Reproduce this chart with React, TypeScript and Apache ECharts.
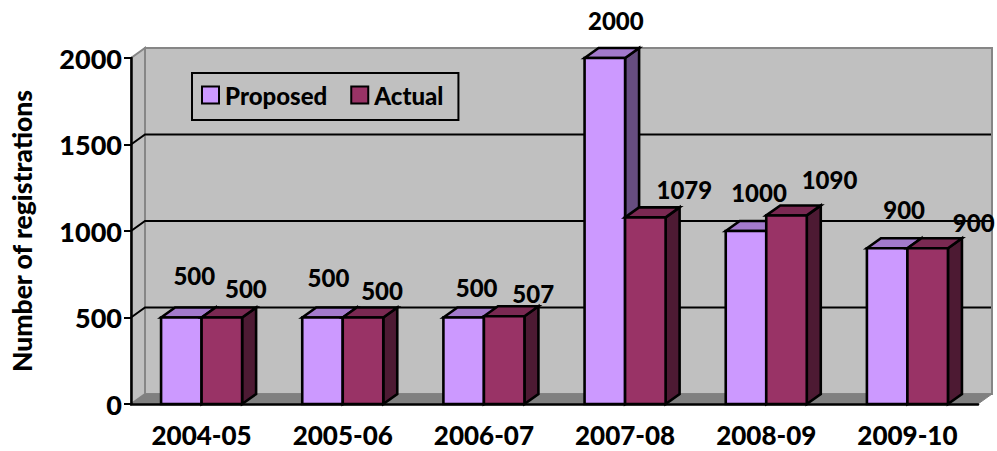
import React, { useEffect, useRef } from "react";
import * as echarts from "echarts";

const categories = ["2004-05", "2005-06", "2006-07", "2007-08", "2008-09", "2009-10"];
const proposed = [500, 500, 500, 2000, 1000, 900];
const actual = [500, 500, 507, 1079, 1090, 900];
const wallTicks = [500, 1000, 1500];
const yMax = 2000;

// manual label displacement relative to the top-centre of each bar (as in the source chart)
const proposedLabelOffset = [[13, -42], [6, -40], [13, -30], [11, -38], [13, -39], [17, -39]];
const actualLabelOffset = [[24, -29], [19, -27], [29, -23], [39, -28], [43, -36], [46, -26]];

const FONT = "Lato";
const WEIGHT = 900;
const DX = 14;
const DY = -10;
const BAR_FRACTION = 0.287;

function pts(a: number[][]) {
  return { points: a };
}

function wallItem(_: any, api: any) {
  const band = api.size([1, 0])[0];
  const [x0c, y0] = api.coord([0, 0]);
  const x0 = x0c - band / 2;
  const x1 = x0 + band * categories.length;
  const yT = api.coord([0, yMax])[1];
  const edge = "#868686";
  const children: any[] = [
    { type: "polygon", shape: pts([[x0 + DX, yT + DY], [x1 + DX, yT + DY], [x1 + DX, y0 + DY], [x0 + DX, y0 + DY]]), style: { fill: "#C0C0C0", stroke: edge, lineWidth: 2 } },
    { type: "polygon", shape: pts([[x0, yT], [x0 + DX, yT + DY], [x0 + DX, y0 + DY], [x0, y0]]), style: { fill: "#C0C0C0", stroke: edge, lineWidth: 2 } },
    { type: "polygon", shape: pts([[x0, y0], [x1, y0], [x1 + DX, y0 + DY], [x0 + DX, y0 + DY]]), style: { fill: "#808080", stroke: "#808080", lineWidth: 1 } },
  ];
  wallTicks.forEach((v) => {
    const y = api.coord([0, v])[1];
    children.push({
      type: "polyline",
      shape: pts([[x0, y], [x0 + DX, y + DY], [x1 + DX - 1, y + DY]]),
      style: { fill: "none", stroke: "#000", lineWidth: 2 },
    });
  });
  return { type: "group", children };
}

function barItem(side: number, front: string, top: string, face: string, offsets: number[][]) {
  return (params: any, api: any) => {
    const i = api.value(0);
    const v = api.value(1);
    const band = api.size([1, 0])[0];
    const w = band * BAR_FRACTION;
    const [xc, yTop] = api.coord([i, v]);
    const yBase = api.coord([i, 0])[1];
    const xa = side < 0 ? xc - w : xc;
    const xb = xa + w;
    const line = { stroke: "#000", lineWidth: 2.6, lineJoin: "miter" };
    const off = offsets[params.dataIndex];
    return {
      type: "group",
      children: [
        { type: "polygon", shape: pts([[xb, yTop], [xb + DX, yTop + DY], [xb + DX, yBase + DY], [xb, yBase]]), style: { fill: face, ...line } },
        { type: "polygon", shape: pts([[xa, yTop], [xa + DX, yTop + DY], [xb + DX, yTop + DY], [xb, yTop]]), style: { fill: top, ...line } },
        { type: "polygon", shape: pts([[xa, yTop], [xb, yTop], [xb, yBase], [xa, yBase]]), style: { fill: front, ...line } },
        {
          type: "text",
          x: (xa + xb) / 2 + off[0],
          y: yTop + off[1],
          z2: 10,
          style: { text: String(v), fill: "#000", font: `${WEIGHT} 24px ${FONT}`, align: "center", verticalAlign: "middle" },
        },
      ],
    };
  };
}

export default function App() {
  const ref = useRef<HTMLDivElement>(null);
  useEffect(() => {
    document.body.style.margin = "0";
    const chart = echarts.init(ref.current!, undefined, { renderer: "svg" });
    const labelStyle = { color: "#000", fontFamily: FONT, fontWeight: WEIGHT, fontSize: 26 };
    chart.setOption({
      animation: false,
      backgroundColor: "#fff",
      grid: { left: 131, right: 19, top: 58, bottom: 47, outerBoundsMode: "none" },
      legend: {
        show: true,
        data: ["Proposed", "Actual"],
        left: 192,
        top: 73,
        orient: "horizontal",
        padding: [10, 15, 13, 9],
        itemWidth: 17,
        itemHeight: 17,
        itemGap: 23,
        icon: "rect",
        borderColor: "#000",
        borderWidth: 2,
        selectedMode: false,
        textStyle: { ...labelStyle, fontSize: 24, lineHeight: 24, padding: [0, 0, 0, 1] },
        z: 20,
      },
      xAxis: {
        type: "category",
        data: categories,
        z: 10,
        axisLine: { lineStyle: { color: "#000", width: 2.5 } },
        axisTick: { length: 7, lineStyle: { color: "#000", width: 2 } },
        axisLabel: { ...labelStyle, lineHeight: 20, margin: 21, interval: 0 },
      },
      yAxis: {
        type: "value",
        min: 0,
        max: yMax,
        interval: 500,
        z: 10,
        name: "Number of registrations",
        nameLocation: "middle",
        nameGap: 96,
        nameTextStyle: { ...labelStyle, fontSize: 26.5 },
        axisLine: { show: true, lineStyle: { color: "#000", width: 2.5 } },
        axisTick: { show: true, length: 7, lineStyle: { color: "#000", width: 2 } },
        axisLabel: { ...labelStyle, fontSize: 27, margin: 9, formatter: (v: number) => String(v) },
        splitLine: { show: false },
      },
      series: [
        { type: "custom", name: "wall", z: 1, silent: true, data: [[0, 0]], renderItem: wallItem },
        {
          type: "custom",
          name: "Proposed",
          z: 3,
          itemStyle: { color: "#CC99FF", borderColor: "#000", borderWidth: 2 },
          data: proposed.map((v, i) => [i, v]),
          renderItem: barItem(-1, "#CC99FF", "#A37ACC", "#664D80", proposedLabelOffset),
        },
        {
          type: "custom",
          name: "Actual",
          z: 4,
          itemStyle: { color: "#993366", borderColor: "#000", borderWidth: 2 },
          data: actual.map((v, i) => [i, v]),
          renderItem: barItem(1, "#993366", "#7A2952", "#4D1A33", actualLabelOffset),
        },
      ],
    });
    return () => chart.dispose();
  }, []);
  return <div ref={ref} style={{ width: 997, height: 451 }} />;
}
